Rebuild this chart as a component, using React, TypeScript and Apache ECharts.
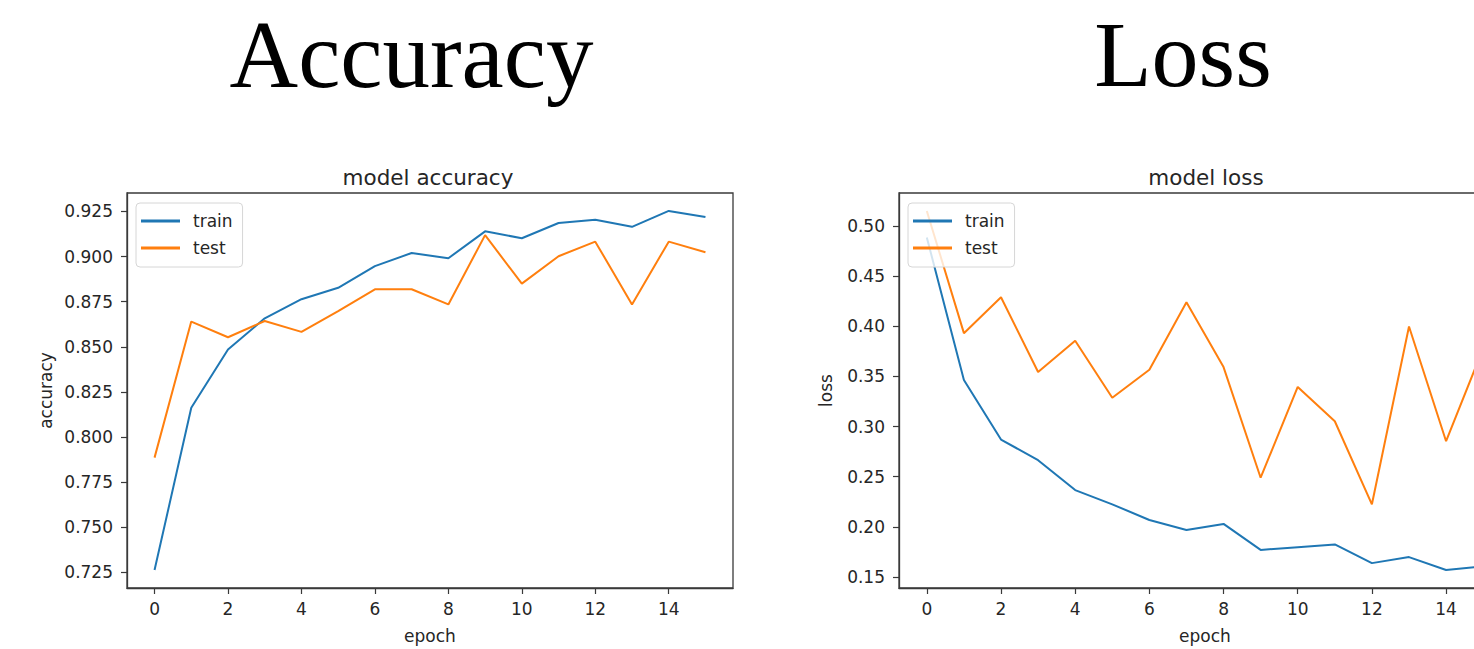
import React, { useEffect, useRef } from "react";
import * as echarts from "echarts";

const epochs = [0, 1, 2, 3, 4, 5, 6, 7, 8, 9, 10, 11, 12, 13, 14, 15];
const accTrain = [0.7263, 0.8162, 0.8485, 0.8658, 0.8764, 0.8827, 0.8947, 0.902, 0.8991, 0.914, 0.9102, 0.9186, 0.9204, 0.9165, 0.9253, 0.922];
const accTest = [0.7886, 0.864, 0.8553, 0.8643, 0.8583, 0.8698, 0.8819, 0.8819, 0.8735, 0.9119, 0.885, 0.9002, 0.9083, 0.8735, 0.9083, 0.9024];
const lossTrain = [0.4885, 0.3465, 0.2871, 0.2665, 0.2367, 0.2225, 0.2069, 0.197, 0.203, 0.1771, 0.1798, 0.1825, 0.1639, 0.1699, 0.157, 0.1606];
const lossTest = [0.5149, 0.3931, 0.4289, 0.3544, 0.3855, 0.3287, 0.3567, 0.4239, 0.3593, 0.249, 0.3395, 0.3053, 0.2225, 0.3997, 0.2854, 0.378];

const xTicks = [0, 2, 4, 6, 8, 10, 12, 14];
const accTicks = [0.725, 0.75, 0.775, 0.8, 0.825, 0.85, 0.875, 0.9, 0.925];
const lossTicks = [0.15, 0.2, 0.25, 0.3, 0.35, 0.4, 0.45, 0.5];

const seriesNames = ["train", "test"];
const bigTitles = ["Accuracy", "Loss"];
const smallTitles = ["model accuracy", "model loss"];
const yNames = ["accuracy", "loss"];
const xName = "epoch";

const BLUE = "#1f77b4";
const ORANGE = "#ff7f0e";
const SANS = '"DejaVu Sans", sans-serif';
const SERIF = '"Liberation Serif", "Times New Roman", serif';
const TXT = "#262626";
const SPINE = "#3a3a3a";

function pairs(ys: number[]) {
  return epochs.map((x, i) => [x, ys[i]]);
}

function range(arrs: number[][]) {
  const all = arrs.flat();
  const lo = Math.min(...all);
  const hi = Math.max(...all);
  const m = (hi - lo) * 0.05;
  return [lo - m, hi + m];
}

export default function App() {
  const ref = useRef<HTMLDivElement>(null);
  useEffect(() => {
    if (!ref.current) return;
    const chart = echarts.init(ref.current, undefined, { renderer: "svg" });
    const first = epochs[0];
    const last = epochs[epochs.length - 1];
    const xr = [first - (last - first) * 0.05, last + (last - first) * 0.05];
    const accR = range([accTrain, accTest]);
    const lossR = range([lossTrain, lossTest]);
    const yRanges = [accR, lossR];
    const yTicks = [accTicks, lossTicks];
    const yDec = [3, 2];
    const yNameGap = [73, 65];

    const xAxis = [0, 1].map((i) => ({
      type: "value",
      gridIndex: i,
      min: xr[0],
      max: xr[1],
      name: xName,
      nameLocation: "middle",
      nameGap: 39,
      nameTextStyle: { fontSize: 17, color: TXT, fontFamily: SANS },
      axisLine: { show: true, onZero: false, lineStyle: { color: SPINE, width: 1.3 } },
      splitLine: { show: false },
      axisTick: { show: true, length: 6, inside: false, lineStyle: { color: SPINE, width: 1.2 }, customValues: xTicks },
      axisLabel: { customValues: xTicks, margin: 12, fontSize: 17, color: TXT, fontFamily: SANS },
    }));

    const yAxis = [0, 1].map((i) => ({
      type: "value",
      gridIndex: i,
      min: yRanges[i][0],
      max: yRanges[i][1],
      name: yNames[i],
      nameLocation: "middle",
      nameGap: yNameGap[i],
      nameTextStyle: { fontSize: 17, color: TXT, fontFamily: SANS },
      axisLine: { show: true, onZero: false, lineStyle: { color: SPINE, width: 1.3 } },
      splitLine: { show: false },
      axisTick: { show: true, length: 6, inside: false, lineStyle: { color: SPINE, width: 1.2 }, customValues: yTicks[i] },
      axisLabel: {
        customValues: yTicks[i],
        margin: 14,
        fontSize: 17,
        color: TXT,
        fontFamily: SANS,
        formatter: (v: number) => v.toFixed(yDec[i]),
      },
    }));

    const mk = (name: string, data: number[], color: string, idx: number) => ({
      type: "line",
      name,
      xAxisIndex: idx,
      yAxisIndex: idx,
      data: pairs(data),
      symbol: "none",
      showSymbol: false,
      lineStyle: { color, width: 2 },
      itemStyle: { color },
      clip: true,
    });

    const legendBase = {
      orient: "vertical",
      data: seriesNames,
      icon: "rect",
      itemWidth: 39,
      itemHeight: 3,
      itemGap: 7,
      padding: [8, 10, 9, 5],
      borderColor: "#d6d6d6",
      borderWidth: 1,
      borderRadius: 4,
      backgroundColor: "rgba(255,255,255,0.8)",
      selectedMode: false,
      textStyle: { fontSize: 17, color: TXT, fontFamily: SANS, padding: [0, 0, 0, 8], lineHeight: 20 },
    };

    chart.setOption({
      animation: false,
      backgroundColor: "#ffffff",
      grid: [
        { left: 127, top: 193, width: 606, height: 398, show: true, borderColor: SPINE, borderWidth: 1.3, backgroundColor: "transparent" },
        { left: 899, top: 193, width: 612, height: 398, show: true, borderColor: SPINE, borderWidth: 1.3, backgroundColor: "transparent" },
      ],
      xAxis,
      yAxis,
      legend: [
        { ...legendBase, left: 136, top: 203 },
        { ...legendBase, left: 908, top: 203 },
      ],
      series: [
        mk(seriesNames[0], accTrain, BLUE, 0),
        mk(seriesNames[1], accTest, ORANGE, 0),
        mk(seriesNames[0], lossTrain, BLUE, 1),
        mk(seriesNames[1], lossTest, ORANGE, 1),
      ],
      graphic: [
        { type: "text", x: 411.5, y: 55, style: { text: bigTitles[0], font: `95px ${SERIF}`, fill: "#000", textAlign: "center", textVerticalAlign: "middle" } },
        { type: "text", x: 1183, y: 54, style: { text: bigTitles[1], font: `94px ${SERIF}`, fill: "#000", textAlign: "center", textVerticalAlign: "middle" } },
        { type: "text", x: 428, y: 177, style: { text: smallTitles[0], font: `21.5px ${SANS}`, fill: TXT, textAlign: "center", textVerticalAlign: "middle" } },
        { type: "text", x: 1206, y: 177, style: { text: smallTitles[1], font: `21.5px ${SANS}`, fill: TXT, textAlign: "center", textVerticalAlign: "middle" } },
      ],
    });
    return () => chart.dispose();
  }, []);
  return (
    <div style={{ position: "fixed", left: 0, top: 0, width: 1474, height: 649, overflow: "hidden", background: "#fff" }}>
      <div ref={ref} style={{ width: 1530, height: 649 }} />
    </div>
  );
}
